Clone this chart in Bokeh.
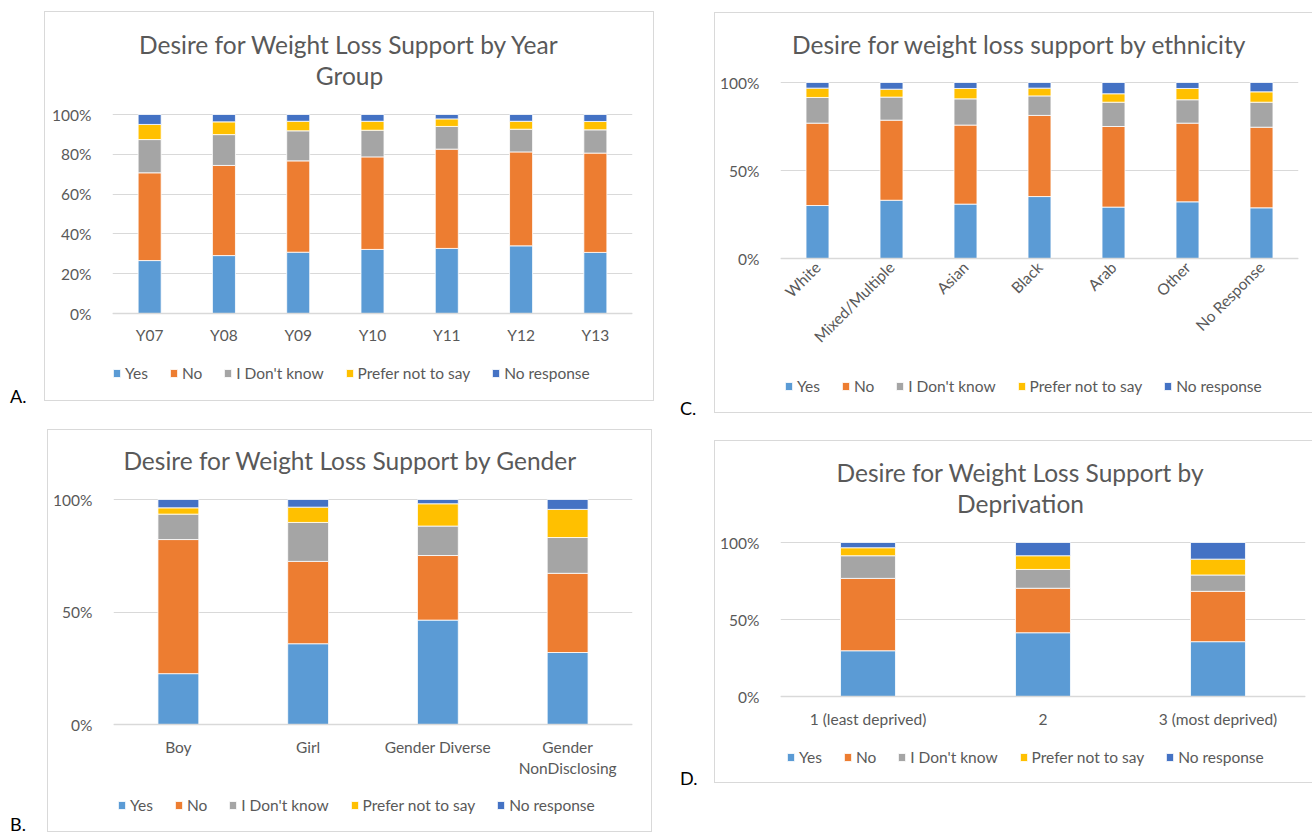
import math
from bokeh.plotting import figure
from bokeh.models import (ColumnDataSource, FactorRange, FixedTicker, Range1d,
                          NumeralTickFormatter, Label, Spacer, Div)
from bokeh.layouts import row, column
from bokeh.embed import file_html
from bokeh.resources import INLINE

# ---------------- data (percent of respondents) ----------------
SERIES = ["Yes", "No", "I Don't know", "Prefer not to say", "No response"]
COLORS = ["#5B9BD5", "#ED7D31", "#A5A5A5", "#FFC000", "#4472C4"]

year_groups = ["Y07", "Y08", "Y09", "Y10", "Y11", "Y12", "Y13"]
year_yes = [26.6, 29.1, 30.8, 32.2, 32.7, 34.0, 30.7]
year_no = [44.1, 45.3, 45.9, 46.5, 49.9, 47.2, 49.9]
year_dk = [16.7, 15.5, 15.1, 13.4, 11.4, 11.4, 11.7]
year_pnts = [7.6, 6.4, 4.8, 4.5, 3.8, 4.0, 4.2]
year_nr = [5.0, 3.7, 3.4, 3.4, 2.2, 3.4, 3.5]

eth_groups = ["White", "Mixed/Multiple", "Asian", "Black", "Arab", "Other", "No Response"]
eth_yes = [30.1, 33.1, 30.9, 35.2, 29.2, 32.2, 28.8]
eth_no = [46.8, 45.5, 44.9, 46.1, 45.8, 44.7, 45.8]
eth_dk = [14.6, 13.1, 14.9, 11.1, 13.8, 13.3, 14.2]
eth_pnts = [5.3, 4.5, 5.9, 4.4, 4.8, 6.4, 5.9]
eth_nr = [3.2, 3.8, 3.4, 3.2, 6.4, 3.4, 5.3]

gender_groups = ["Boy", "Girl", "Gender Diverse", "Gender\nNonDisclosing"]
gender_yes = [22.6, 35.9, 46.4, 32.0]
gender_no = [59.6, 36.6, 28.7, 35.2]
gender_dk = [11.3, 17.3, 13.1, 15.9]
gender_pnts = [2.8, 6.8, 9.9, 12.5]
gender_nr = [3.7, 3.4, 1.9, 4.4]

dep_groups = ["1 (least deprived)", "2", "3 (most deprived)"]
dep_yes = [29.7, 41.4, 35.6]
dep_no = [47.0, 28.9, 32.7]
dep_dk = [14.7, 12.2, 10.6]
dep_pnts = [5.2, 8.9, 10.3]
dep_nr = [3.4, 8.6, 10.8]

ticks_20 = [0, 0.2, 0.4, 0.6, 0.8, 1.0]
ticks_50 = [0, 0.5, 1.0]

FONT = "Lato"
GREY = "#595959"
GRID = "#d9d9d9"
TICK_FS = "15.5px"
LEG_FS = "15.5px"


def make_panel(cats, series_vals, box, frame, ticks, title_lines, title_pos,
               legend_loc, bar_w, x_standoff, rotate=False, right_border=True):
    """box = (left, top, right, bottom) of the panel in page pixels,
    frame = (left, right, y of 100 %, y of 0 %) in page pixels."""
    bl, bt, br, bb = box
    fl, fr, y1, y0 = frame
    unit = float(y0 - y1)
    y_lo = -(bb - y0) / unit
    y_hi = 1 + (y1 - bt) / unit

    keys = ["s%d" % i for i in range(len(SERIES))]
    data = {"cat": cats}
    for k, vals in zip(keys, series_vals):
        data[k] = [v / 100.0 for v in vals]
    src = ColumnDataSource(data)

    p = figure(x_range=FactorRange(factors=cats, range_padding=0),
               y_range=Range1d(y_lo, y_hi),
               width=br - bl, height=bb - bt, output_backend="svg",
               toolbar_location=None,
               min_border_left=fl - bl, min_border_right=br - fr,
               min_border_top=0, min_border_bottom=0,
               background_fill_alpha=0, border_fill_alpha=0,
               outline_line_color=None)
    p.vbar_stack(keys, x="cat", width=bar_w, color=COLORS, line_color="white",
                 line_width=0.8, source=src, legend_label=SERIES)

    p.xgrid.grid_line_color = None
    p.ygrid.grid_line_color = GRID
    p.ygrid.grid_line_width = 1
    p.ygrid.ticker = FixedTicker(ticks=ticks)

    ya = p.yaxis[0]
    ya.ticker = FixedTicker(ticks=ticks)
    ya.formatter = NumeralTickFormatter(format="0%")
    ya.axis_line_color = None
    ya.major_tick_line_color = None
    ya.minor_tick_line_color = None
    ya.major_label_standoff = 15
    ya.major_label_text_font = FONT
    ya.major_label_text_font_size = TICK_FS
    ya.major_label_text_color = GREY

    xa = p.xaxis[0]
    xa.fixed_location = 0
    xa.axis_line_color = GRID
    xa.axis_line_width = 1.5
    xa.major_tick_line_color = None
    xa.minor_tick_line_color = None
    xa.major_tick_out = 0
    xa.major_tick_in = 0
    xa.major_label_standoff = x_standoff
    xa.major_label_text_font = FONT
    xa.major_label_text_font_size = TICK_FS
    xa.major_label_text_color = GREY
    if rotate:
        xa.major_label_orientation = math.pi / 4

    tx, tys = title_pos
    for line, ty in zip(title_lines, tys):
        p.add_layout(Label(x=tx - fl, y=bb - ty, x_units="screen", y_units="screen",
                           text=line, text_align="center", text_baseline="middle",
                           text_font=FONT, text_font_size="24.5px",
                           text_color=GREY))

    lg = p.legend[0]
    lx, lcy = legend_loc
    lg.orientation = "horizontal"
    lg.location = (lx - fl, bb - (lcy + 9))
    lg.glyph_width = 9
    lg.glyph_height = 10
    lg.label_height = 18
    lg.label_standoff = 4
    lg.spacing = 21
    lg.padding = 0
    lg.margin = 0
    lg.border_line_color = None
    lg.background_fill_alpha = 0
    lg.label_text_font = FONT
    lg.label_text_font_size = LEG_FS
    lg.label_text_color = GREY

    if right_border:
        p.styles = {"box-shadow": "inset 0 0 0 1px #d9d9d9"}
    else:
        p.styles = {"box-shadow": "inset 1px 1px 0 0 #d9d9d9, inset 0 -1px 0 0 #d9d9d9"}
    return p


def letter(txt, w, top, indent):
    html = ('<div style="font:18px/18px Lato;color:#000;margin-left:%dpx;'
            'white-space:nowrap">%s</div>' % (indent, txt))
    return column(Spacer(height=top, width=w, margin=0),
                  Div(text=html, width=w, height=12, margin=0))


pA = make_panel(year_groups, [year_yes, year_no, year_dk, year_pnts, year_nr],
                (44, 11, 654, 401), (112, 632, 114, 313), ticks_20,
                ["Desire for Weight Loss Support by Year", "Group"],
                (349, [44, 75]), (112, 373), 0.31, 12)

pB = make_panel(gender_groups, [gender_yes, gender_no, gender_dk, gender_pnts, gender_nr],
                (47, 429, 652, 832), (113, 632, 499, 724), ticks_50,
                ["Desire for Weight Loss Support by Gender"],
                (350, [460]), (117, 805), 0.315, 13)

pC = make_panel(eth_groups, [eth_yes, eth_no, eth_dk, eth_pnts, eth_nr],
                (714, 12, 1312, 413), (780, 1298, 82, 258), ticks_50,
                ["Desire for weight loss support by ethnicity"],
                (1019, [44]), (784, 386), 0.31, 6, rotate=True, right_border=False)

pD = make_panel(dep_groups, [dep_yes, dep_no, dep_dk, dep_pnts, dep_nr],
                (714, 440, 1312, 783), (780, 1305, 542, 696), ticks_50,
                ["Desire for Weight Loss Support by", "Deprivation"],
                (1020, [472, 503]), (786, 757), 0.314, 13, right_border=False)

left_col = column(
    Spacer(height=11, width=654, margin=0),
    row(letter("A.", 44, 376, 10), pA),
    Spacer(height=28, width=654, margin=0),
    row(letter("B.", 47, 386, 10), pB),
)
right_col = column(
    Spacer(height=12, width=658, margin=0),
    row(letter("C.", 60, 387, 26), pC),
    Spacer(height=27, width=658, margin=0),
    row(letter("D.", 60, 329, 26), pD),
)
layout = row(left_col, right_col)

open("out.html", "w").write(file_html(layout, INLINE))
